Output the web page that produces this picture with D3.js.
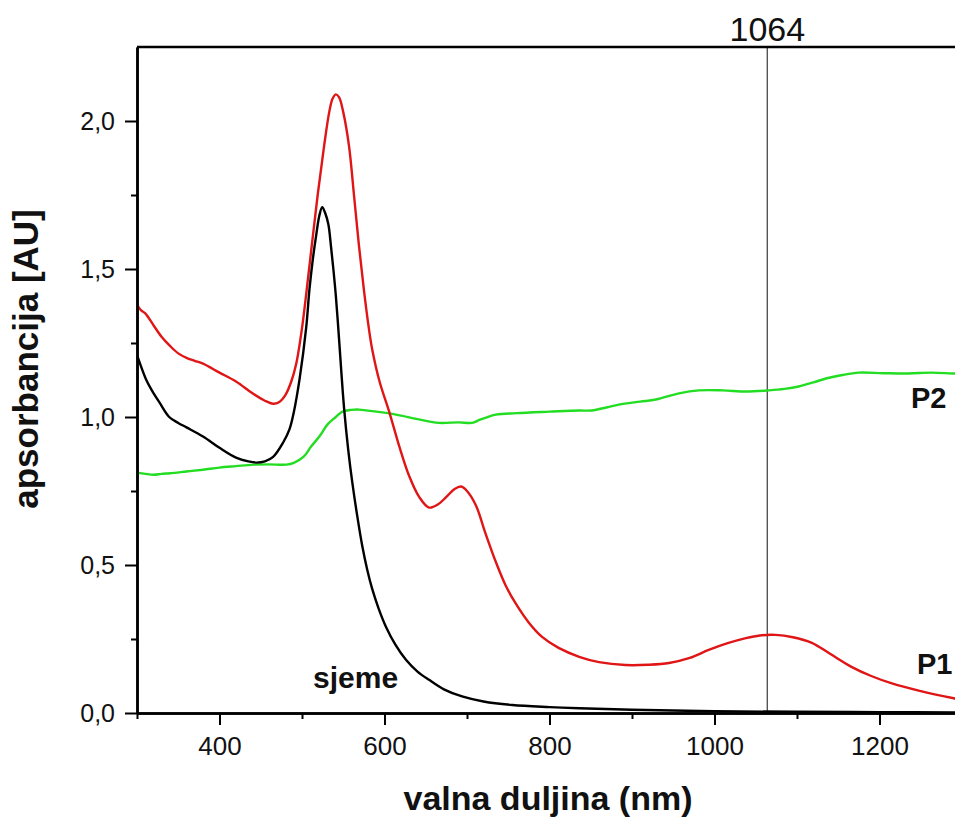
<!DOCTYPE html>
<html>
<head>
<meta charset="utf-8">
<script src="https://cdn.jsdelivr.net/npm/d3@7"></script>
<style>
  html, body { margin: 0; padding: 0; background: #fff; }
  svg { display: block; }
  text { font-family: "Liberation Sans", Arial, sans-serif; }
</style>
</head>
<body>
<svg id="chart" width="955" height="819"></svg>
<script>
// ---- data ----
const p1Wavelength = [300,305,310,320,330,340,350,360,370,380,400,420,440,455,465,472,480,487,493,500,509,519,527,533,537,541,545,550,557,563,569,575,581,585,594,606,618,630,642,654,665,675,685,693,700,711,722,735,747,759,775,791,811,836,860,892,920,945,970,993,1015,1038,1055,1074,1095,1118,1140,1166,1190,1215,1250,1290,1300];
const p1Values     = [1.38,1.36,1.35,1.31,1.27,1.24,1.215,1.20,1.19,1.18,1.15,1.12,1.08,1.055,1.045,1.05,1.075,1.12,1.18,1.30,1.51,1.75,1.92,2.03,2.075,2.09,2.08,2.03,1.915,1.75,1.58,1.43,1.30,1.23,1.12,1.015,0.90,0.80,0.73,0.694,0.705,0.73,0.757,0.765,0.75,0.70,0.61,0.51,0.43,0.37,0.305,0.257,0.22,0.19,0.172,0.162,0.163,0.169,0.186,0.213,0.235,0.253,0.262,0.264,0.256,0.237,0.20,0.156,0.125,0.10,0.074,0.05,0.045];

const sjemeWavelength = [300,305,311,318,327,339,350,360,380,400,420,435,445,455,465,477,485,490,497,505,509,513,517,521,524.5,528,532,535,538,541,545,548,551,556,561,567,573,579,585,593,602,613,626,640,654,672,694,720,755,800,836,900,1000,1100,1200,1300];
const sjemeValues     = [1.21,1.17,1.127,1.09,1.05,1.00,0.98,0.965,0.934,0.896,0.863,0.85,0.846,0.85,0.865,0.913,0.96,1.015,1.127,1.30,1.43,1.53,1.61,1.68,1.709,1.69,1.65,1.58,1.50,1.41,1.26,1.14,1.03,0.89,0.778,0.665,0.565,0.485,0.42,0.352,0.29,0.232,0.18,0.14,0.112,0.08,0.056,0.039,0.027,0.02,0.016,0.011,0.006,0.004,0.003,0.002];

const p2Wavelength = [300,310,320,330,340,360,380,400,420,441,460,481,490,502,511,521,531,541,549,560,569,590,614,640,666,690,706,715,723,735,760,800,836,851,870,884,910,929,957,981,1010,1038,1066,1085,1102,1120,1135,1155,1175,1205,1235,1263,1290,1300];
const p2Values     = [0.812,0.808,0.805,0.808,0.81,0.816,0.822,0.829,0.834,0.839,0.84,0.839,0.845,0.866,0.90,0.934,0.975,1.00,1.018,1.024,1.025,1.018,1.008,0.993,0.98,0.982,0.98,0.99,0.998,1.008,1.013,1.018,1.022,1.022,1.033,1.042,1.052,1.059,1.08,1.09,1.09,1.086,1.09,1.095,1.103,1.117,1.13,1.142,1.15,1.148,1.147,1.15,1.147,1.147];

const xMajorTicks = [400, 600, 800, 1000, 1200];
const xMinorTicks = [300, 500, 700, 900, 1100, 1300];
const yMajorTicks = [0, 0.5, 1.0, 1.5, 2.0];
const yMinorTicks = [0.25, 0.75, 1.25, 1.75];
const markerWavelength = 1064;

const seriesNames  = ["P1", "sjeme", "P2"];
const seriesColors = ["#e01515", "#000000", "#22dd22"];

// ---- layout ----
const svg = d3.select("#chart");
const plotLeft = 137, plotTop = 47, plotBottom = 713, plotW = 825;

const x = d3.scaleLinear().domain([300, 1300]).range([plotLeft, plotLeft + plotW]);
const y = d3.scaleLinear().domain([0, 2.25]).range([plotBottom, plotTop]);

const series = [
  { name: seriesNames[0], color: seriesColors[0], pts: p1Wavelength.map((w, i) => [w, p1Values[i]]) },
  { name: seriesNames[1], color: seriesColors[1], pts: sjemeWavelength.map((w, i) => [w, sjemeValues[i]]) },
  { name: seriesNames[2], color: seriesColors[2], pts: p2Wavelength.map((w, i) => [w, p2Values[i]]) }
];

svg.append("defs").append("clipPath").attr("id", "plotclip")
  .append("rect").attr("x", plotLeft).attr("y", plotTop).attr("width", plotW).attr("height", plotBottom - plotTop);

// marker line at 1064 nm
svg.append("line")
  .attr("x1", x(markerWavelength)).attr("x2", x(markerWavelength))
  .attr("y1", plotTop).attr("y2", plotBottom)
  .attr("stroke", "#555").attr("stroke-width", 1.4);

svg.append("text")
  .attr("x", x(markerWavelength)).attr("y", 41)
  .attr("text-anchor", "middle")
  .attr("font-size", 34).attr("fill", "#111")
  .text(String(markerWavelength));

// curves
const line = d3.line().x(d => x(d[0])).y(d => y(d[1])).curve(d3.curveCatmullRom.alpha(0.5));
const g = svg.append("g").attr("clip-path", "url(#plotclip)");
[series[2], series[0], series[1]].forEach(s => {
  g.append("path").datum(s.pts)
    .attr("d", line)
    .attr("fill", "none")
    .attr("stroke", s.color)
    .attr("stroke-width", 2.4)
    .attr("stroke-linejoin", "round");
});

// axes
function styleAxis(sel, fs) {
  sel.selectAll(".domain").attr("stroke", "#000").attr("stroke-width", 2.5);
  sel.selectAll(".tick line").attr("stroke", "#000").attr("stroke-width", 2);
  sel.selectAll(".tick text").attr("font-size", fs).attr("fill", "#111")
     .attr("font-family", "'Liberation Sans', Arial, sans-serif");
}

const xAxisMinor = svg.append("g").attr("transform", `translate(0,${plotBottom})`)
  .call(d3.axisBottom(x).tickValues(xMinorTicks).tickSize(6).tickSizeOuter(0).tickFormat(""));
styleAxis(xAxisMinor, 26);

const xAxis = svg.append("g").attr("transform", `translate(0,${plotBottom})`)
  .call(d3.axisBottom(x).tickValues(xMajorTicks).tickSize(12).tickSizeOuter(0).tickPadding(12).tickFormat(d3.format("d")));
styleAxis(xAxis, 26);

const yAxisMinor = svg.append("g").attr("transform", `translate(${plotLeft},0)`)
  .call(d3.axisLeft(y).tickValues(yMinorTicks).tickSize(6).tickSizeOuter(0).tickFormat(""));
styleAxis(yAxisMinor, 25);

const yAxis = svg.append("g").attr("transform", `translate(${plotLeft},0)`)
  .call(d3.axisLeft(y).tickValues(yMajorTicks).tickSize(12).tickSizeOuter(0).tickPadding(10)
        .tickFormat(d => d3.format(".1f")(d).replace(".", ",")));
styleAxis(yAxis, 25);

// top frame line
svg.append("line")
  .attr("x1", plotLeft).attr("x2", plotLeft + plotW)
  .attr("y1", plotTop).attr("y2", plotTop)
  .attr("stroke", "#000").attr("stroke-width", 2.5);

// axis titles
svg.append("text")
  .attr("x", 548).attr("y", 810)
  .attr("text-anchor", "middle")
  .attr("font-size", 34).attr("font-weight", "bold").attr("fill", "#111")
  .text("valna duljina (nm)");

svg.append("text")
  .attr("transform", "translate(38,359) rotate(-90)")
  .attr("text-anchor", "middle")
  .attr("font-size", 35).attr("font-weight", "bold").attr("fill", "#111")
  .text("apsorbancija [AU]");

// series labels
svg.append("text").attr("x", 911).attr("y", 408)
  .attr("font-size", 29).attr("font-weight", "bold").attr("fill", "#111").text(seriesNames[2]);
svg.append("text").attr("x", 917).attr("y", 674)
  .attr("font-size", 29).attr("font-weight", "bold").attr("fill", "#111").text(seriesNames[0]);
svg.append("text").attr("x", 313).attr("y", 688)
  .attr("font-size", 30).attr("font-weight", "bold").attr("fill", "#111").text(seriesNames[1]);
</script>
</body>
</html>
